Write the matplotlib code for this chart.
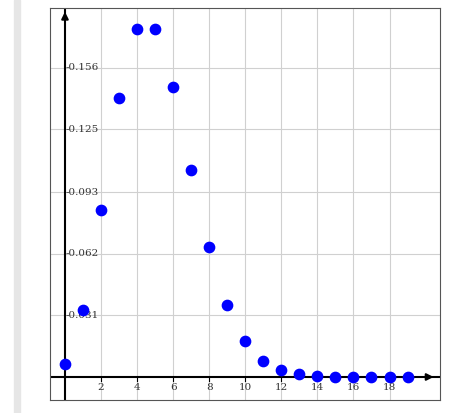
import matplotlib
matplotlib.use("Agg")
import matplotlib.pyplot as plt
from matplotlib.patches import Rectangle

k = list(range(20))
p = [0.0067, 0.0337, 0.0842, 0.1404, 0.1755, 0.1755, 0.1462, 0.1044, 0.0653, 0.0363,
     0.0181, 0.0082, 0.0034, 0.0013, 0.0005, 0.0002, 0.0001, 0.0000, 0.0000, 0.0000]
xticks = [2, 4, 6, 8, 10, 12, 14, 16, 18]
yticks = [0.031, 0.062, 0.093, 0.125, 0.156]
ylabels = ["0.031", "0.062", "0.093", "0.125", "0.156"]

fig = plt.figure(figsize=(4.74, 4.13), dpi=100)
fig.patches.append(Rectangle((14/474, 0), 6/474, 1, transform=fig.transFigure, color="#e6e6e6"))
ax = fig.add_axes([50/474, 13/413, 390/474, 392/413])
ax.set_xlim(-0.83, 20.8)
ax.set_ylim(-0.0116, 0.186)
for s in ax.spines.values():
    s.set_color("#555555"); s.set_linewidth(0.8)
ax.set_xticks(xticks); ax.set_yticks(yticks)
ax.grid(True, color="#d0d0d0", linewidth=0.8)
ax.tick_params(length=0, labelbottom=False, labelleft=False)
ax.axhline(0, color="black", lw=1.5)
ax.axvline(0, color="black", lw=1.5)
ax.annotate("", xy=(20.6, 0), xytext=(20.0, 0), arrowprops=dict(arrowstyle="-|>", color="black", lw=1.5))
ax.annotate("", xy=(0, 0.1855), xytext=(0, 0.18), arrowprops=dict(arrowstyle="-|>", color="black", lw=1.5))
for x in xticks:
    ax.plot([x, x], [0, -0.002], color="black", lw=0.8)
    ax.text(x, -0.003, str(x), ha="center", va="top", family="DejaVu Serif", fontsize=7.5, color="#333333")
for y, l in zip(yticks, ylabels):
    ax.text(0.05, y, "-" + l, ha="left", va="center", family="DejaVu Serif", fontsize=7.5, color="#333333")
ax.scatter(k, p, s=55, color="#0000ff", zorder=5, clip_on=False)
fig.savefig("out.png", dpi=100)
